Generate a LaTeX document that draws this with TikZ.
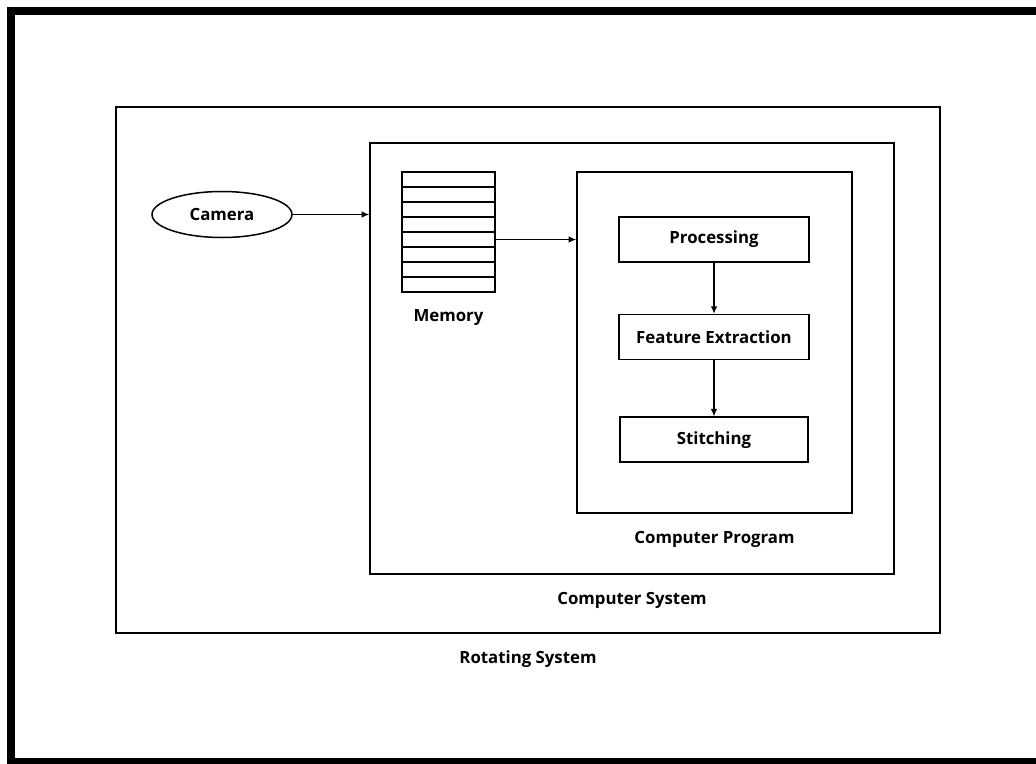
\documentclass[tikz,border=0pt]{standalone}
\usepackage{fontspec}
\setmainfont{Open Sans}
\usetikzlibrary{positioning,shapes.geometric,arrows.meta}

\begin{document}
\begin{tikzpicture}[x=1pt,y=-1pt]
    \tikzstyle{every node}=[font=\fontsize{16.8}{19}\selectfont\bfseries,inner sep=0]
    \tikzstyle{frame}=[draw,rectangle,line width=1.6pt]
    \tikzstyle{stage}=[frame,minimum width=190,minimum height=45]
    \tikzstyle{cell}=[frame,line width=1.3pt,minimum width=93,minimum height=15]
    \tikzstyle{note}=[draw=none,node distance=17pt]
    \tikzstyle{flow}=[-{Latex[length=7.5pt,width=6.5pt]},line width=1.2pt]
    {
        \useasboundingbox (0,0) rectangle (1036,763);
        % thick page border, cut by the right and bottom edges
        \draw[line width=8pt] (11,11) rectangle (1046,762);

        \node[frame,minimum width=824,minimum height=526] (rot) at (528,370) {};
        \node[frame,minimum width=524,minimum height=431] (sys) at (632,358.5) {};
        \node[frame,minimum width=275,minimum height=341] (prog) at (714.5,342.5) {};

        \node[note] (labelrot) [below=of rot] {Rotating System};
        \node[note] (labelsys) [below=of sys] {Computer System};
        \node[note] (labelprog) [below=of prog] {Computer Program};

        \node[draw,ellipse,line width=1.5pt,minimum width=140,minimum height=46] (cam) at (222,214.5) {Camera};

        \foreach \i in {0,...,7}
            \node[cell] (m\i) at (448.5,{179.5+15*\i}) {};
        \node[note] (labelmem) [below=of m7] {Memory};

        \node[stage] (proc) at (714,239.5) {Processing};
        \node[stage,node distance=51pt] (feat) [below=of proc] {Feature Extraction};
        \node[stage,node distance=56pt,minimum width=188] (stitch) [below=of feat] {Stitching};

        \draw[flow] (cam) -- (cam -| sys.west);
        \draw[flow] (m4.east) -- (m4.east -| prog.west);
        \draw[flow] (proc) -- (feat);
        \draw[flow] (feat) -- (stitch);
    }
\end{tikzpicture}
\end{document}
